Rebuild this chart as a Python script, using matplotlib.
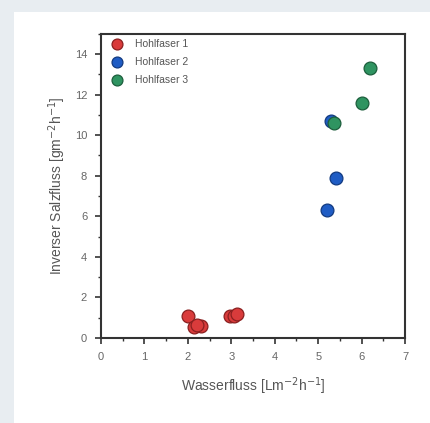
import matplotlib.pyplot as plt
from matplotlib.patches import Rectangle
from matplotlib.ticker import MultipleLocator

plt.rcParams['font.family'] = ['Liberation Sans', 'DejaVu Sans']

# Hohlfaser 1
x1 = [2.0, 2.15, 2.3, 2.2, 2.98, 3.05, 3.12]
y1 = [1.1, 0.55, 0.6, 0.65, 1.1, 1.1, 1.2]
# Hohlfaser 2
x2 = [5.3, 5.2, 5.4]
y2 = [10.7, 6.3, 7.9]
# Hohlfaser 3
x3 = [5.36, 6.0, 6.2]
y3 = [10.6, 11.6, 13.3]

labels = ['Hohlfaser 1', 'Hohlfaser 2', 'Hohlfaser 3']
farben = ['#d93b3b', '#1f5cc4', '#2f9461']
kanten = ['#8a1f1f', '#123a80', '#1c5e3c']

fig = plt.figure(figsize=(4.30, 4.23), dpi=100)
fig.patch.set_facecolor('#e8edf1')
fig.patches.append(Rectangle((14/430, 0), 1, 1 - 12/423, transform=fig.transFigure,
                             facecolor='white', edgecolor='none', zorder=-1))

ax = fig.add_axes([0.235, 0.201, 0.707, 0.719])
ax.set_zorder(2)
for xs, ys, lab, c, k in zip([x1, x2, x3], [y1, y2, y3], labels, farben, kanten):
    ax.scatter(xs, ys, s=85, color=c, edgecolors=k, linewidths=0.9, label=lab, zorder=3)

ax.set_xlim(0, 7)
ax.set_ylim(0, 15)
ax.xaxis.set_major_locator(MultipleLocator(1))
ax.xaxis.set_minor_locator(MultipleLocator(0.5))
ax.yaxis.set_major_locator(MultipleLocator(2))
ax.yaxis.set_minor_locator(MultipleLocator(1))
ax.set_yticks([0, 2, 4, 6, 8, 10, 12, 14])
ax.tick_params(which='major', direction='out', length=4, width=1.2, labelsize=8,
               colors='#333333', labelcolor='#666666', pad=6)
ax.tick_params(which='minor', direction='out', length=2.5, width=1.0, colors='#333333')
for s in ax.spines.values():
    s.set_linewidth(1.5)
    s.set_color('#333333')

ax.set_xlabel('Wasserfluss [Lm$^{-2}$h$^{-1}$]', fontsize=10, color='#555555', labelpad=10)
ax.set_ylabel('Inverser Salzfluss [gm$^{-2}$h$^{-1}$]', fontsize=10, color='#555555', labelpad=5)

ax.legend(loc='upper left', frameon=False, fontsize=7.5, labelcolor='#555555',
          markerscale=0.85, handletextpad=0.8, borderpad=0.2, labelspacing=0.75,
          borderaxespad=0.3)

fig.savefig('out.png', dpi=100, facecolor=fig.get_facecolor())
